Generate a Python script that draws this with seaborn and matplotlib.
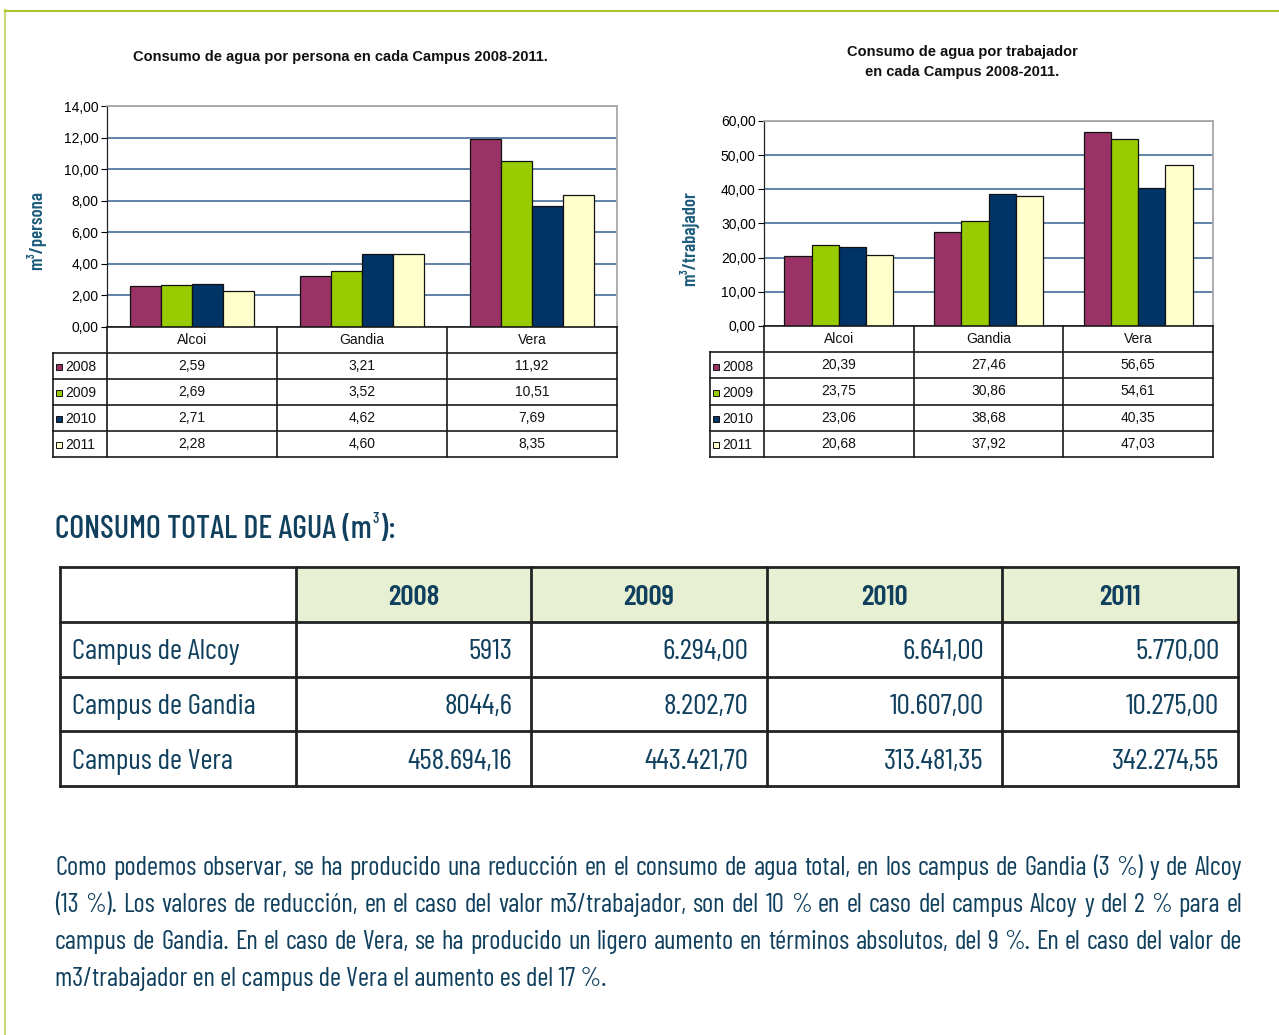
import matplotlib
matplotlib.use("Agg")
import numpy as np
import pandas as pd
import seaborn as sns
import matplotlib.pyplot as plt
import matplotlib.font_manager as fm
from matplotlib.lines import Line2D
from matplotlib.patches import Rectangle

# ---- data -------------------------------------------------------------
campus = ["Alcoi", "Gandia", "Vera"]
years = ["2008", "2009", "2010", "2011"]
year_colors = ["#993366", "#99cc00", "#003366", "#ffffcc"]

persona_2008 = [2.59, 3.21, 11.92]
persona_2009 = [2.69, 3.52, 10.51]
persona_2010 = [2.71, 4.62, 7.69]
persona_2011 = [2.28, 4.60, 8.35]

trabajador_2008 = [20.39, 27.46, 56.65]
trabajador_2009 = [23.75, 30.86, 54.61]
trabajador_2010 = [23.06, 38.68, 40.35]
trabajador_2011 = [20.68, 37.92, 47.03]

total_rows = ["Campus de Alcoy", "Campus de Gandia", "Campus de Vera"]
total_2008 = ["5913", "8044,6", "458.694,16"]
total_2009 = ["6.294,00", "8.202,70", "443.421,70"]
total_2010 = ["6.641,00", "10.607,00", "313.481,35"]
total_2011 = ["5.770,00", "10.275,00", "342.274,55"]

paragraph = [
    "Como podemos observar, se ha producido una reducción en el consumo de agua total, en los campus de Gandia (3 %) y de Alcoy",
    "(13 %). Los valores de reducción, en el caso del valor m3/trabajador, son del 10 % en el caso del campus Alcoy y del 2 % para el",
    "campus de Gandia. En el caso de Vera, se ha producido un ligero aumento en términos absolutos, del 9 %. En el caso del valor de",
    "m3/trabajador en el campus de Vera el aumento es del 17 %.",
]

# ---- fonts ------------------------------------------------------------
names = {f.name for f in fm.fontManager.ttflist}
NARROW = dict(family="DejaVu Sans", stretch="condensed")
for cand in ["Barlow Condensed", "Roboto Condensed", "Archivo Narrow",
             "PT Sans Narrow", "Encode Sans Condensed", "Liberation Sans Narrow"]:
    if cand in names:
        NARROW = dict(family=cand)
        break
plt.rcParams["font.family"] = ["Liberation Sans", "DejaVu Sans"]

TEAL = "#10405e"
W, H = 1279, 1035


def px(x0, y0, x1, y1):
    return [x0 / W, 1 - y1 / H, (x1 - x0) / W, (y1 - y0) / H]


def comma(v):
    return f"{v:.2f}".replace(".", ",")


def bar_chart(fig, box, tbl_left, tbl_bottom, series, ymax, ystep):
    x0, y0, x1, y1 = box
    df = pd.DataFrame({
        "campus": campus * len(years),
        "year": [y for y in years for _ in campus],
        "value": [v for s in series for v in s],
    })
    ax = fig.add_axes(px(*box))
    sns.barplot(data=df, x="campus", y="value", hue="year", palette=year_colors,
                saturation=1, width=0.73, edgecolor="#111111", linewidth=0.9,
                legend=False, ax=ax)
    ax.set_xlim(-0.5, 2.5)
    ax.set_ylim(0, ymax)
    ticks = np.arange(0, ymax + ystep / 2, ystep)
    ax.set_yticks(ticks)
    ax.set_yticklabels([comma(t) for t in ticks])
    ax.set_xticks([])
    ax.set_xlabel("")
    ax.set_ylabel("")
    ax.set_axisbelow(True)
    ax.yaxis.grid(True, color="#365f8f", lw=1.1)
    ax.tick_params(axis="y", length=4, width=0.8, labelsize=10, pad=2)
    for s in ["top", "right"]:
        ax.spines[s].set_color("#a8a8a8")
        ax.spines[s].set_linewidth(1.3)
    ax.spines["left"].set_color("#222222")
    ax.spines["left"].set_linewidth(0.9)
    ax.spines["bottom"].set_visible(False)

    # data table under the chart
    unit = (x1 - x0) / 3
    xl = -0.5 - (x0 - tbl_left) / unit
    tax = fig.add_axes(px(tbl_left, y1, x1, tbl_bottom))
    tax.set_xlim(xl, 2.5)
    tax.set_ylim(5, 0)
    tax.axis("off")
    lk = dict(color="#1a1a1a", lw=1.2, clip_on=False, solid_capstyle="projecting")
    tax.plot([-0.5, 2.5], [0, 0], **lk)
    for r in range(1, 6):
        tax.plot([xl, 2.5], [r, r], **lk)
    for xb in [-0.5, 0.5, 1.5, 2.5]:
        tax.plot([xb, xb], [0, 5], **lk)
    tax.plot([xl, xl], [1, 5], **lk)
    for i, c in enumerate(campus):
        tax.text(i, 0.5, c, ha="center", va="center", fontsize=10, color="#111111")
    mx = xl + 6 / unit
    for r, (y, col, s) in enumerate(zip(years, year_colors, series), start=1):
        tax.plot(mx, r + 0.55, marker="s", ms=5, mfc=col, mec="#111111", mew=0.7,
                 clip_on=False)
        tax.text(mx + 6 / unit, r + 0.55, y, ha="left", va="center", fontsize=10,
                 color="#111111")
        for i, v in enumerate(s):
            tax.text(i, r + 0.5, comma(v), ha="center", va="center", fontsize=10,
                     color="#111111")
    return ax


fig = plt.figure(figsize=(W / 100, H / 100), dpi=100)
rend = fig.canvas.get_renderer()

# page frame
fig.add_artist(Line2D([5.5 / W, 5.5 / W], [0, 1 - 10 / H], color="#c9dc7c", lw=1.6))
fig.add_artist(Line2D([5 / W, 1], [1 - 10.5 / H, 1 - 10.5 / H], color="#a8c72a", lw=1.5))

# left chart
bar_chart(fig, (107, 106, 617, 327), 53, 457,
          [persona_2008, persona_2009, persona_2010, persona_2011], 14, 2)
fig.text(340 / W, 1 - 57 / H, "Consumo de agua por persona en cada Campus 2008-2011.",
         ha="center", va="center", fontsize=10.5, fontweight="bold", color="#111111")
fig.text(36 / W, 1 - 231 / H, "m³/persona", rotation=90, ha="center", va="center",
         fontsize=13.5, fontweight="semibold", color="#1d5c7c", **NARROW)

# right chart
bar_chart(fig, (764, 121, 1213, 326), 710, 457,
          [trabajador_2008, trabajador_2009, trabajador_2010, trabajador_2011], 60, 10)
fig.text(962 / W, 1 - 62 / H, "Consumo de agua por trabajador\nen cada Campus 2008-2011.",
         ha="center", va="center", fontsize=10.5, fontweight="bold", color="#111111",
         linespacing=1.5)
fig.text(689 / W, 1 - 239 / H, "m³/trabajador", rotation=90, ha="center", va="center",
         fontsize=13.5, fontweight="semibold", color="#1d5c7c", **NARROW)

# heading with a small raised "3"
hk = dict(va="baseline", ha="left", color=TEAL, fontweight="medium", **NARROW)
hy = 1 - 538 / H
h1 = fig.text(55 / W, hy, "CONSUMO TOTAL DE AGUA (m", fontsize=23, **hk)
xh = 55 + h1.get_window_extent(rend).width + 1
h2 = fig.text(xh / W, hy + 15 / H, "3", fontsize=11, **hk)
xh += h2.get_window_extent(rend).width + 1
fig.text(xh / W, hy, "):", fontsize=23, **hk)

# total consumption table
bx = fig.add_axes(px(60, 567, 1238, 786))
bx.set_xlim(0, 5)
bx.set_ylim(4, 0)
bx.axis("off")
for c in range(1, 5):
    bx.add_patch(Rectangle((c, 0), 1, 1, facecolor="#e8f0d4", edgecolor="none"))
bk = dict(color="#232323", lw=2, clip_on=False, solid_capstyle="projecting")
for r in range(5):
    bx.plot([0, 5], [r, r], **bk)
for c in range(6):
    bx.plot([c, c], [0, 4], **bk)
for c, y in enumerate(years, start=1):
    bx.text(c + 0.5, 0.55, y, ha="center", va="center", fontsize=21,
            fontweight="semibold", color=TEAL, **NARROW)
for r, name in enumerate(total_rows, start=1):
    bx.text(0.05, r + 0.56, name, ha="left", va="center", fontsize=21,
            color=TEAL, **NARROW)
for c, col in enumerate([total_2008, total_2009, total_2010, total_2011], start=1):
    for r, v in enumerate(col, start=1):
        bx.text(c + 1 - 0.08, r + 0.56, v, ha="right", va="center", fontsize=21.5,
                color=TEAL, **NARROW)

# justified paragraph
left, right = 55, 1242
base = 21
probe = [fig.text(0, 0, ln, fontsize=base, **NARROW) for ln in paragraph[:3]]
widest = max(t.get_window_extent(rend).width for t in probe)
for t in probe:
    t.remove()
size = min(base, base * (right - left) / widest * 0.985)
baselines = [875, 912, 949, 986]
for i, (ln, yb) in enumerate(zip(paragraph, baselines)):
    kw = dict(fontsize=size, color=TEAL, va="baseline", ha="left", **NARROW)
    if i == len(paragraph) - 1:
        fig.text(left / W, 1 - yb / H, ln, **kw)
        continue
    words = ln.split(" ")
    texts = [fig.text(0, 1 - yb / H, w, **kw) for w in words]
    widths = [t.get_window_extent(rend).width for t in texts]
    gap = (right - left - sum(widths)) / (len(words) - 1)
    x = left
    for t, w in zip(texts, widths):
        t.set_x(x / W)
        x += w + gap

fig.savefig("out.png", dpi=100)
